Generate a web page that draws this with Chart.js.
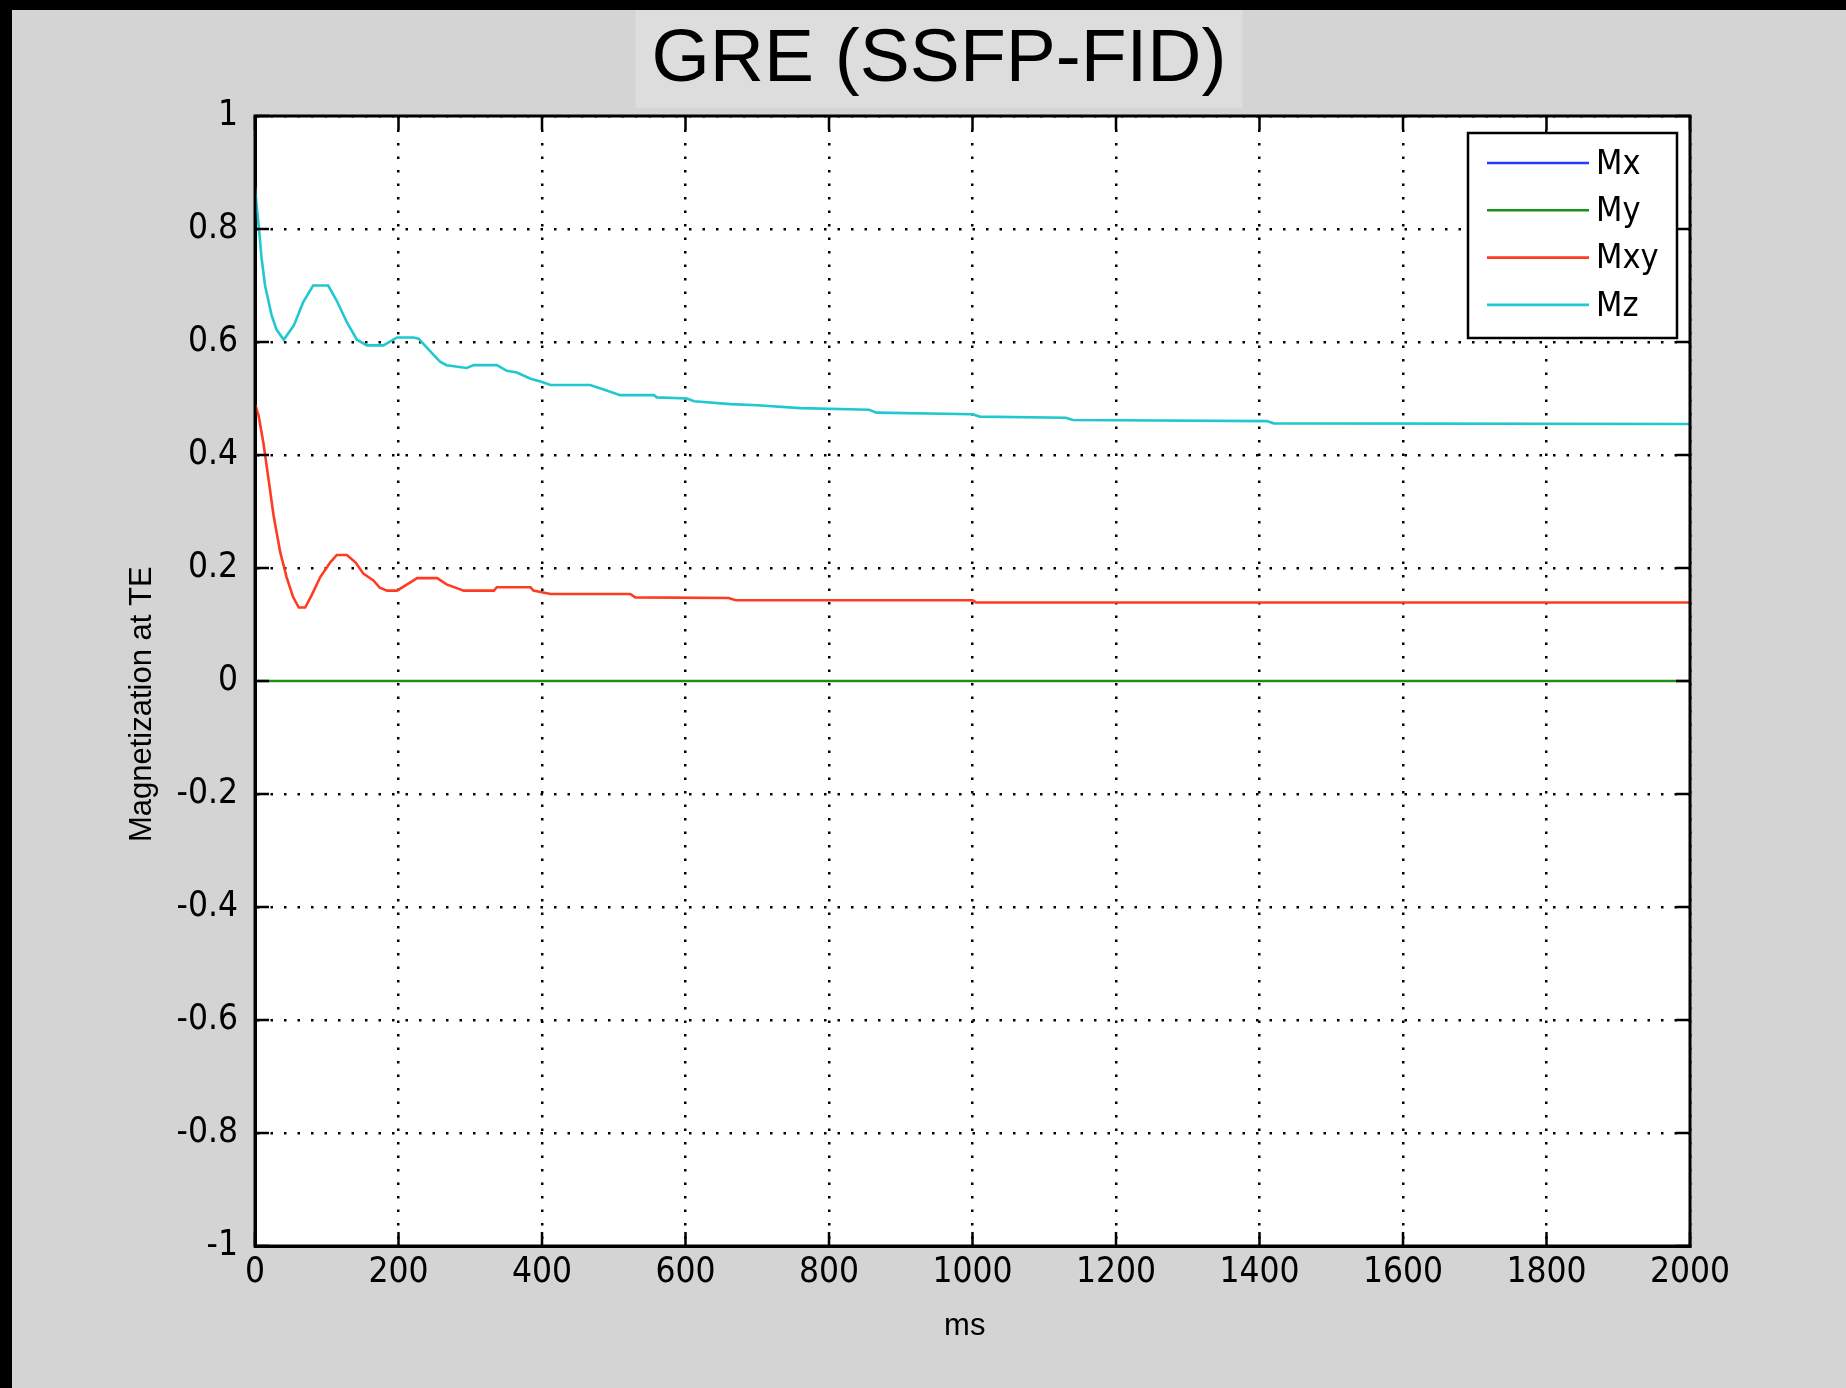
<!DOCTYPE html>
<html><head><meta charset="utf-8">
<script src="https://cdn.jsdelivr.net/npm/chart.js@4.4.1/dist/chart.umd.min.js"></script>
<style>
html,body{margin:0;padding:0;background:#d4d4d4;width:1846px;height:1388px;overflow:hidden;position:relative}
#barL{position:absolute;left:0;top:0;width:12px;height:1388px;background:#000}
#barT{position:absolute;left:0;top:0;width:1846px;height:10px;background:#000}
#wrap{position:absolute;left:32px;top:10px;width:1814px;height:1378px}
</style></head><body>
<div id="barT"></div><div id="barL"></div>
<div id="wrap"><canvas id="c" width="1814" height="1378"></canvas></div>
<script>
const chartTitle = 'GRE (SSFP-FID)';
const xAxisTitle = 'ms';
const yAxisTitle = 'Magnetization at TE';
const seriesLabels = ['Mx', 'My', 'Mxy', 'Mz'];
const seriesColors = ['#1f3dff', '#1a8f1a', '#ff3b22', '#22c8d0'];

const mxTime = [0, 2000];
const mxValues = [0, 0];
const myTime = [0, 2000];
const myValues = [0, 0];

const mxyTime = [0, 5, 12, 19, 26, 35, 44, 53, 61, 70, 79, 91, 105, 114, 128, 140, 151, 165, 174, 184, 198, 212, 226, 254, 267, 291, 333, 337, 384, 388, 412, 523, 530, 660, 670, 1000, 1005, 2000];
const mxyValues = [0.49, 0.47, 0.419, 0.356, 0.292, 0.229, 0.184, 0.149, 0.130, 0.130, 0.152, 0.184, 0.21, 0.223, 0.223, 0.21, 0.19, 0.178, 0.165, 0.16, 0.16, 0.171, 0.182, 0.182, 0.171, 0.16, 0.16, 0.166, 0.166, 0.16, 0.154, 0.154, 0.148, 0.147, 0.143, 0.143, 0.139, 0.139];

const mzTime = [0, 2, 6, 9, 14, 23, 30, 40, 54, 67, 81, 102, 114, 128, 142, 156, 179, 198, 221, 228, 244, 258, 267, 295, 305, 337, 351, 365, 384, 398, 412, 467, 486, 509, 556, 560, 602, 612, 663, 700, 760, 856, 866, 1000, 1010, 1130, 1140, 1410, 1420, 2000];
const mzValues = [0.875, 0.845, 0.795, 0.75, 0.70, 0.648, 0.622, 0.604, 0.629, 0.67, 0.70, 0.70, 0.673, 0.635, 0.604, 0.594, 0.594, 0.608, 0.608, 0.606, 0.584, 0.565, 0.559, 0.554, 0.559, 0.559, 0.549, 0.546, 0.535, 0.530, 0.524, 0.524, 0.516, 0.506, 0.506, 0.502, 0.500, 0.495, 0.490, 0.488, 0.483, 0.480, 0.475, 0.472, 0.468, 0.466, 0.462, 0.460, 0.456, 0.455];

const xTickLabels = ['0', '200', '400', '600', '800', '1000', '1200', '1400', '1600', '1800', '2000'];
const yTickLabels = ['-1', '-0.8', '-0.6', '-0.4', '-0.2', '0', '0.2', '0.4', '0.6', '0.8', '1'];

const pts = (t, v) => t.map((x, i) => ({x: x, y: v[i]}));
const narrow = '"Liberation Sans Narrow", "Arial Narrow", "DejaVu Sans Condensed", "Liberation Sans", sans-serif';
const regular = '"Liberation Sans", Arial, sans-serif';

const framePlugin = {
  id: 'frame',
  beforeDraw(chart) {
    const {ctx, chartArea: a} = chart;
    ctx.save();
    ctx.fillStyle = '#dddddd';
    const cx = chart.width / 2;
    ctx.fillRect(cx - 303.5, 0, 607, 98);
    ctx.fillStyle = '#ffffff';
    ctx.fillRect(a.left, a.top, a.right - a.left, a.bottom - a.top);
    ctx.restore();
  },
  afterDatasetsDraw(chart) {
    const {ctx, chartArea: a, scales} = chart;
    ctx.save();
    ctx.strokeStyle = '#000';
    ctx.lineWidth = 2.5;
    const tl = 14;
    ctx.beginPath();
    scales.x.ticks.forEach(t => {
      const px = scales.x.getPixelForValue(t.value);
      ctx.moveTo(px, a.top); ctx.lineTo(px, a.top + tl);
      ctx.moveTo(px, a.bottom); ctx.lineTo(px, a.bottom - tl);
    });
    scales.y.ticks.forEach(t => {
      const py = scales.y.getPixelForValue(t.value);
      ctx.moveTo(a.left, py); ctx.lineTo(a.left + tl, py);
      ctx.moveTo(a.right, py); ctx.lineTo(a.right - tl, py);
    });
    ctx.stroke();
    ctx.lineWidth = 3;
    ctx.strokeRect(a.left, a.top, a.right - a.left, a.bottom - a.top);
    ctx.restore();
  },
  afterDraw(chart) {
    const {ctx, chartArea: a} = chart;
    const w = 209, h = 205;
    const x0 = a.right - 13 - w, y0 = a.top + 17;
    ctx.save();
    ctx.fillStyle = '#fff';
    ctx.fillRect(x0, y0, w, h);
    ctx.strokeStyle = '#000';
    ctx.lineWidth = 2.5;
    ctx.strokeRect(x0, y0, w, h);
    ctx.font = '34px ' + narrow;
    ctx.textBaseline = 'middle';
    ctx.textAlign = 'left';
    chart.data.datasets.forEach((ds, i) => {
      const y = y0 + 30 + i * 47.3;
      ctx.strokeStyle = ds.borderColor;
      ctx.lineWidth = 2.6;
      ctx.beginPath();
      ctx.moveTo(x0 + 19, y); ctx.lineTo(x0 + 121, y);
      ctx.stroke();
      ctx.fillStyle = '#000';
      ctx.fillText(ds.label, x0 + 128, y + 2);
    });
    ctx.restore();
  }
};

const series = [pts(mxTime, mxValues), pts(myTime, myValues), pts(mxyTime, mxyValues), pts(mzTime, mzValues)];
const datasets = seriesLabels.map((lab, i) => ({
  label: lab,
  data: series[i],
  borderColor: seriesColors[i],
  backgroundColor: seriesColors[i],
  borderWidth: i === 0 ? 2.2 : 2.6,
  pointRadius: 0,
  tension: 0,
  fill: false,
  yAxisID: 'y',
  xAxisID: 'x',
  order: 4 - i
}));

new Chart(document.getElementById('c'), {
  type: 'line',
  data: {datasets: datasets},
  options: {
    responsive: false,
    animation: false,
    layout: {padding: 0},
    plugins: {
      legend: {display: false},
      tooltip: {enabled: false},
      title: {
        display: true, text: chartTitle, color: '#000',
        font: {family: regular, size: 75, weight: 'normal', lineHeight: 1.2},
        padding: {top: 5, bottom: 11}
      }
    },
    scales: {
      x: {
        type: 'linear', position: 'bottom', min: 0, max: 2000,
        ticks: {stepSize: 200, autoSkip: false, maxRotation: 0, padding: 6, color: '#000',
          font: {family: narrow, size: 35, lineHeight: 1.2},
          callback: v => xTickLabels[Math.round(v / 200)]},
        grid: {color: '#000', lineWidth: 2.5, drawTicks: false},
        border: {display: true, color: '#000', width: 3, dash: [2.5, 11]},
        title: {display: true, text: xAxisTitle + '\u2002', color: '#000',
          font: {family: regular, size: 31, lineHeight: 1.2}, padding: {top: 0, bottom: 43}},
        afterFit(s) { s.height = 142; }
      },
      y: {
        type: 'linear', position: 'left', min: -1, max: 1,
        ticks: {stepSize: 0.2, autoSkip: false, padding: 17, color: '#000',
          font: {family: narrow, size: 35, lineHeight: 1.2},
          callback: v => yTickLabels[Math.round((v + 1) / 0.2)]},
        grid: {color: c => (c.tick && Math.abs(c.tick.value) < 1e-9) ? 'rgba(0,0,0,0)' : '#000', lineWidth: 2.5, drawTicks: false},
        border: {display: true, color: '#000', width: 3, dash: [2.5, 11]},
        title: {display: true, text: yAxisTitle + '\u2003\u2002', color: '#000',
          font: {family: regular, size: 31, lineHeight: 1.2}, padding: {top: 92, bottom: 0}},
        afterFit(s) { s.width = 223; }
      },
      yR: {
        type: 'linear', position: 'right', min: -1, max: 1, display: true,
        grid: {display: false, drawTicks: false},
        border: {display: false},
        ticks: {display: false},
        afterFit(s) { s.width = 156; }
      }
    }
  },
  plugins: [framePlugin]
});
</script>
</body></html>
